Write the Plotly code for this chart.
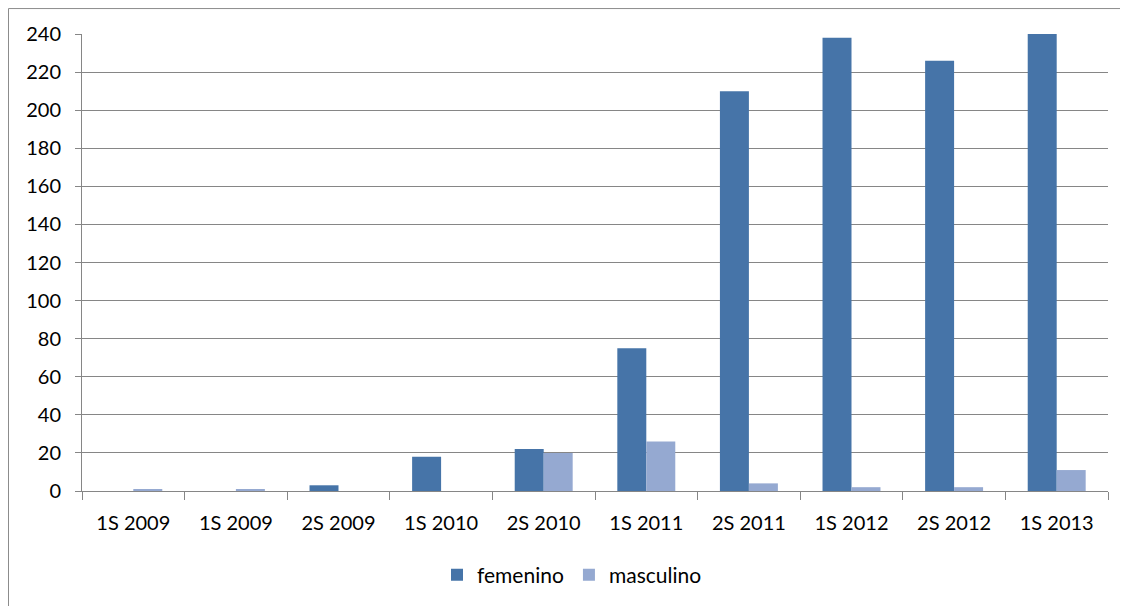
import plotly.graph_objects as go

categories = ["1S 2009", "1S 2009", "2S 2009", "1S 2010", "2S 2010",
              "1S 2011", "2S 2011", "1S 2012", "2S 2012", "1S 2013"]
femenino = [0, 0, 3, 18, 22, 75, 210, 238, 226, 240]
masculino = [1, 1, 0, 0, 20, 26, 4, 2, 2, 11]
y_ticks = list(range(0, 241, 20))

positions = list(range(len(categories)))

# page body has an 8px margin; work in screen coordinates
OFF = 8
W, H = 1128 - OFF, 606 - OFF
SL, SR, ST, SB = 82, 1108, 34, 492   # plot area in screen px
L, T = SL - OFF, ST - OFF
R, B = W - (SR - OFF), H - (SB - OFF)
pw, ph = SR - SL, SB - ST

def px_x(x):
    return (x - SL) / pw

def px_y(y):
    return (SB - y) / ph

fig = go.Figure()
fig.add_trace(go.Bar(x=positions, y=femenino, name="femenino",
                     marker=dict(color="#4674A8", line=dict(width=0))))
fig.add_trace(go.Bar(x=positions, y=masculino, name="masculino",
                     marker=dict(color="#95A9D1", line=dict(width=0))))

font = "Lato, 'Open Sans', sans-serif"
fig.update_layout(
    width=W, height=H,
    margin=dict(l=L, r=R, t=T, b=B, pad=0),
    paper_bgcolor="white", plot_bgcolor="white",
    barmode="group", bargap=0.435, bargroupgap=0,
    font=dict(family=font, size=20, color="black"),
    showlegend=True,
    legend=dict(orientation="h", x=px_x(572), y=px_y(575),
                xanchor="center", yanchor="middle",
                font=dict(size=21), itemwidth=30, traceorder="normal"),
    xaxis=dict(range=[-0.5, len(categories) - 0.5],
               tickmode="array", tickvals=positions, ticktext=categories,
               ticks="", showgrid=False, zeroline=False,
               showline=True, linecolor="#868686", linewidth=1,
               ticklabelstandoff=14,
               minor=dict(tickmode="linear", tick0=0.5, dtick=1,
                          ticks="outside", ticklen=8, tickcolor="#868686",
                          showgrid=False)),
    yaxis=dict(range=[0, 240], tickmode="array", tickvals=y_ticks,
               ticks="outside", ticklen=6, tickcolor="#868686",
               showgrid=True, gridcolor="#868686", gridwidth=1.2,
               zeroline=False, showline=True, linecolor="#868686",
               linewidth=1, ticklabelstandoff=10),
    shapes=[
        dict(type="line", xref="paper", yref="paper",
             x0=px_x(8.5), x1=px_x(1130), y0=px_y(8.5), y1=px_y(8.5),
             line=dict(color="#8C8C8C", width=1)),
        dict(type="line", xref="paper", yref="paper",
             x0=px_x(8.5), x1=px_x(8.5), y0=px_y(8.5), y1=px_y(610),
             line=dict(color="#8C8C8C", width=1)),
    ],
)

fig.write_html("out.html")
